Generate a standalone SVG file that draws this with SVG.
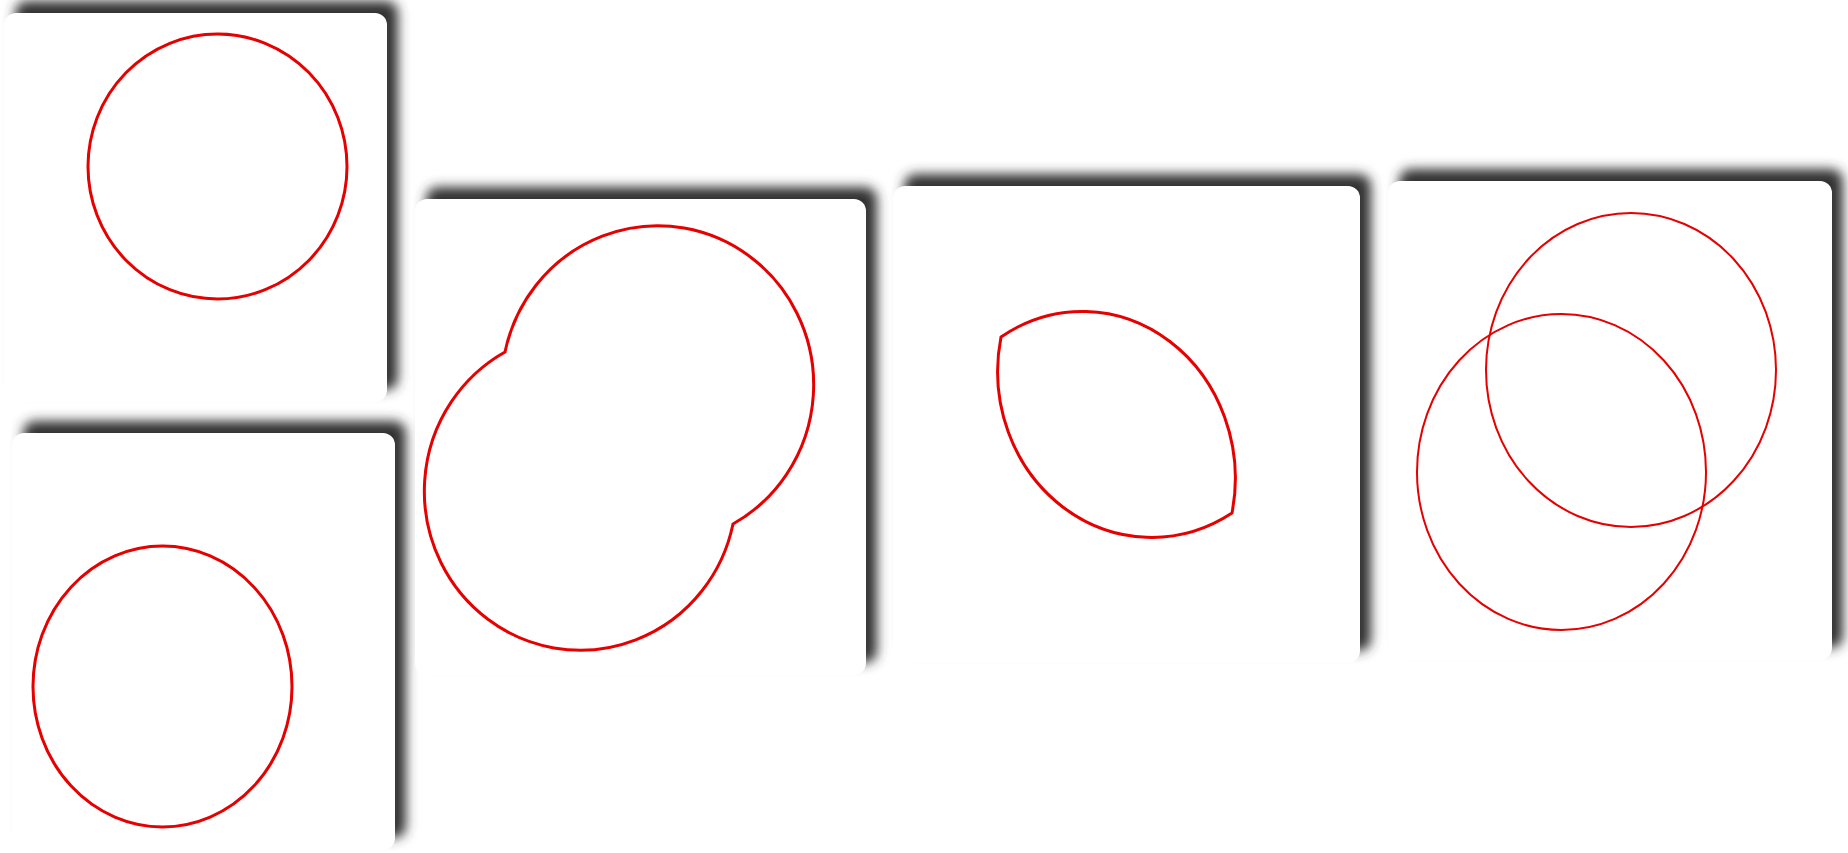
<svg xmlns="http://www.w3.org/2000/svg" width="1848" height="853" viewBox="0 0 1848 853">
<defs>
<filter id="sh" x="-20%" y="-20%" width="140%" height="140%">
<feGaussianBlur stdDeviation="6"/>
</filter>
</defs>
<style>
.shadow{fill:#303030;filter:url(#sh)}
.card{fill:#ffffff}
.shape{fill:none;stroke:#e60000;stroke-width:3;stroke-linejoin:miter}
.thin{fill:none;stroke:#e60000;stroke-width:2}
</style>
<rect x="0" y="0" width="1848" height="853" fill="#ffffff"/>
<g id="panel1">
<rect class="shadow" x="15" y="1" width="383" height="389" rx="12"/>
<rect class="card" x="4" y="13" width="383" height="389" rx="12"/>
<ellipse class="shape" cx="217.5" cy="166.5" rx="129.5" ry="132.5"/>
</g>
<g id="panel2">
<rect class="shadow" x="23" y="421" width="383" height="417" rx="12"/>
<rect class="card" x="12" y="433" width="383" height="417" rx="12"/>
<ellipse class="shape" cx="162.5" cy="686.5" rx="129.5" ry="140.5"/>
</g>
<g id="panel3">
<rect class="shadow" x="426" y="187" width="451" height="476" rx="12"/>
<rect class="card" x="415" y="199" width="451" height="476" rx="12"/>
<path class="shape" d="M 505 352 A 156 159 0 1 1 733 524 A 156 159 0 1 1 505 352 Z"/>
</g>
<g id="panel4">
<rect class="shadow" x="904" y="174" width="467" height="477" rx="12"/>
<rect class="card" x="893" y="186" width="467" height="477" rx="12"/>
<path class="shape" d="M 1001 337 A 153 167 0 0 1 1232 513 A 154 166 0 0 1 1001 337 Z"/>
</g>
<g id="panel5">
<rect class="shadow" x="1399" y="169" width="444" height="479" rx="12"/>
<rect class="card" x="1388" y="181" width="444" height="479" rx="12"/>
<ellipse class="thin" cx="1631" cy="370" rx="145" ry="157"/>
<ellipse class="thin" cx="1561.5" cy="472" rx="144.5" ry="158"/>
</g>
<g id="connectors"></g>
</svg>
